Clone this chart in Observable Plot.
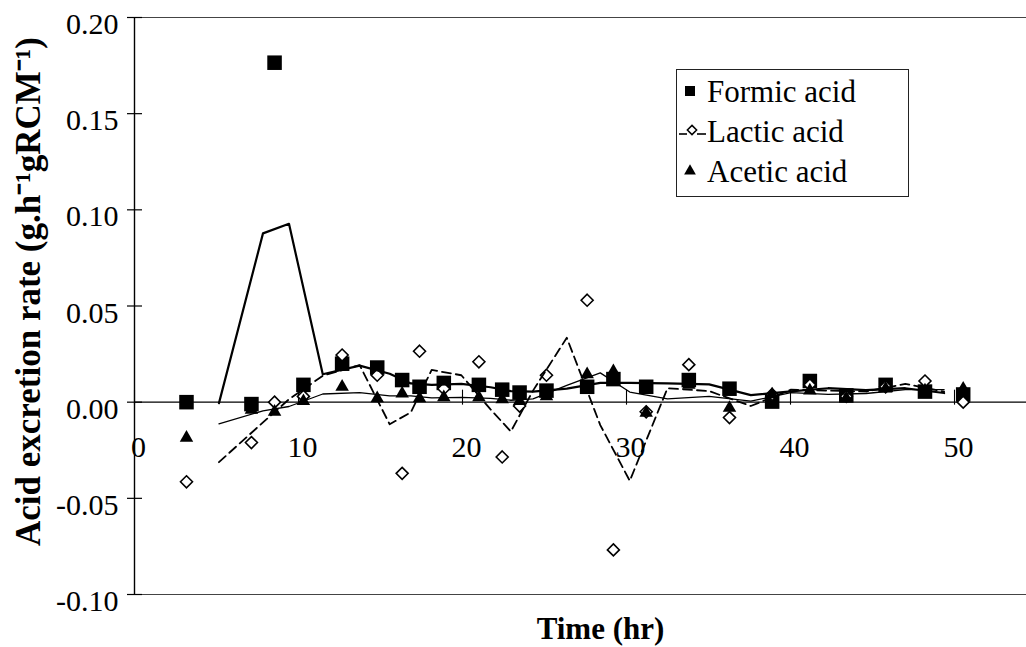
<!DOCTYPE html>
<html>
<head>
<meta charset="utf-8">
<script src="https://cdn.jsdelivr.net/npm/d3@7"></script>
<script src="https://cdn.jsdelivr.net/npm/@observablehq/plot@0.6"></script>
<style>
  html, body { margin: 0; padding: 0; background: #fff; }
  #wrap { position: relative; width: 1026px; height: 647px; font-family: "Liberation Serif", "Times New Roman", serif; }
  #legend { position: absolute; left: 676px; top: 69px; }
</style>
</head>
<body>
<div id="wrap">
  <div id="chart"></div>
  <svg id="legend" width="234" height="129"></svg>
</div>
<script>
// ---- data ----
const times  = [3.17, 7.13, 8.54, 10.3, 12.66, 14.8, 16.32, 17.38, 18.86, 21.0, 22.42, 23.48,
                25.12, 27.6, 29.2, 31.2, 33.8, 36.28, 38.88, 41.18, 43.4, 45.8, 48.2, 50.53];
const formic = [0.0, -0.001, 0.1765, 0.009, 0.020, 0.018, 0.0115, 0.008, 0.010, 0.009, 0.0065, 0.005,
                0.006, 0.008, 0.012, 0.008, 0.0115, 0.007, 0.0003, 0.011, 0.0035, 0.009, 0.0055, 0.004];
const lactic = [-0.0414, -0.021, 0.0, 0.003, 0.0245, 0.014, -0.037, 0.0265, 0.007, 0.021, -0.0285, -0.002,
                0.014, 0.053, -0.0768, -0.005, 0.0195, -0.008, 0.004, 0.009, 0.003, 0.008, 0.011, 0.0];
const acetic = [-0.0185, -0.004, -0.005, 0.0005, 0.008, 0.002, 0.0045, 0.002, 0.0025, 0.0025, 0.0015, 0.0005,
                0.003, 0.0145, 0.016, -0.0055, 0.009, -0.003, 0.004, 0.006, 0.002, 0.007, 0.006, 0.007];
const seriesNames = ["Formic acid", "Lactic acid", "Acetic acid"];
const xTicks = [0, 10, 20, 30, 40, 50];
const yTicks = [-0.10, -0.05, 0.00, 0.05, 0.10, 0.15, 0.20];
const xLabel = "Time (hr)";
const yLabel = "Acid excretion rate (g.h\u207B\u00B9gRCM\u207B\u00B9)";

// ---- build tables ----
const table = vals => times.map((t, i) => ({t, v: vals[i]}));
const F = table(formic), L = table(lactic), A = table(acetic);

// two-point moving average trendline (Excel style), computed by Plot's window transform
const movingAvg = () => Plot.map(
  {
    x: Plot.window({k: 2, anchor: "start", strict: true, reduce: "mean"}),
    y: Plot.window({k: 2, anchor: "start", strict: true, reduce: "mean"})
  },
  {x: "t", y: "v"}
);

const FONT = "Liberation Serif, Times New Roman, serif";

const chart = Plot.plot({
  width: 1026,
  height: 647,
  marginLeft: 134,
  marginRight: 0,
  marginTop: 17,
  marginBottom: 53,
  style: {background: "#fff", fontFamily: FONT, color: "#000", overflow: "visible"},
  x: {domain: [0, 54.39], axis: null},
  y: {domain: [yTicks[0], yTicks[yTicks.length - 1]], axis: null},
  marks: [
    // frame lines (top, bottom) and axes
    Plot.ruleY([yTicks[yTicks.length - 1]], {stroke: "#444", strokeWidth: 1}),
    Plot.ruleY([yTicks[0]], {stroke: "#444", strokeWidth: 1}),
    Plot.ruleY([0], {stroke: "#000", strokeWidth: 1.1}),
    Plot.ruleX([0], {stroke: "#000", strokeWidth: 1.4}),
    // y ticks (cross the axis)
    Plot.ruleY(yTicks, {y: d => d, x1: 0, x2: 0, insetLeft: -7, insetRight: -8, stroke: "#000", strokeWidth: 1.2}),
    // x ticks (cross the zero line)
    Plot.ruleX(xTicks, {x: d => d, y1: 0, y2: 0, insetTop: -12, insetBottom: -3, stroke: "#000", strokeWidth: 1.1}),
    // tick labels
    Plot.text(yTicks, {x: 0, y: d => d, text: d => d.toFixed(2), textAnchor: "end", dx: -16, dy: 7, fontSize: 30, fill: "#000"}),
    Plot.text(xTicks, {x: d => d, y: 0, text: d => String(d), dx: 4, dy: 45, fontSize: 30, fill: "#000"}),
    // axis titles
    Plot.text([xLabel], {frameAnchor: "bottom", textAnchor: "middle", lineAnchor: "middle", dx: 20, dy: 35, fontSize: 31, fontWeight: "bold", fill: "#000"}),
    Plot.text([yLabel], {frameAnchor: "left", textAnchor: "middle", lineAnchor: "middle", rotate: -90, dx: -106, dy: -14.5, fontSize: 35, fontWeight: "bold", fill: "#000"}),
    // markers
    Plot.dot(F, {x: "t", y: "v", symbol: "square", r: 8.2, fill: "#000", stroke: "none"}),
    Plot.dot(L, {x: "t", y: "v", symbol: "diamond2", r: 5.4, fill: "#fff", stroke: "#000", strokeWidth: 1.6}),
    Plot.dot(A, {x: "t", y: "v", symbol: "triangle", r: 5, fill: "#000", stroke: "none"}),
    // moving-average trendlines
    Plot.line(F, {...movingAvg(), stroke: "#000", strokeWidth: 2.2}),
    Plot.line(L, {...movingAvg(), stroke: "#000", strokeWidth: 1.8, strokeDasharray: "9,5"}),
    Plot.line(A, {...movingAvg(), stroke: "#000", strokeWidth: 1.3})
  ]
});
document.getElementById("chart").appendChild(chart);

// ---- legend ----
const lg = d3.select("#legend");
lg.append("rect").attr("x", 0.5).attr("y", 0.5).attr("width", 232).attr("height", 127)
  .attr("fill", "#fff").attr("stroke", "#222").attr("stroke-width", 1);
const rowY = [22, 62, 102];
// formic: square
lg.append("path").attr("d", d3.symbol(d3.symbolSquare, 100)()).attr("transform", `translate(14,${rowY[0]})`).attr("fill", "#000");
// lactic: dash-diamond-dash
lg.append("line").attr("x1", 3).attr("x2", 11).attr("y1", rowY[1] + 3).attr("y2", rowY[1] + 3).attr("stroke", "#000").attr("stroke-width", 1.6);
lg.append("line").attr("x1", 21).attr("x2", 30).attr("y1", rowY[1] + 3).attr("y2", rowY[1] + 3).attr("stroke", "#000").attr("stroke-width", 1.6);
lg.append("path").attr("d", d3.symbol(d3.symbolDiamond2, 55)()).attr("transform", `translate(16,${rowY[1] - 1})`).attr("fill", "#fff").attr("stroke", "#000").attr("stroke-width", 1.5);
// acetic: triangle
lg.append("path").attr("d", d3.symbol(d3.symbolTriangle, 60)()).attr("transform", `translate(14,${rowY[2]})`).attr("fill", "#000");
seriesNames.forEach((name, i) => {
  lg.append("text").attr("x", 31).attr("y", rowY[i] + 10.5)
    .attr("font-family", FONT).attr("font-size", 31).attr("fill", "#000").text(name);
});
</script>
</body>
</html>
